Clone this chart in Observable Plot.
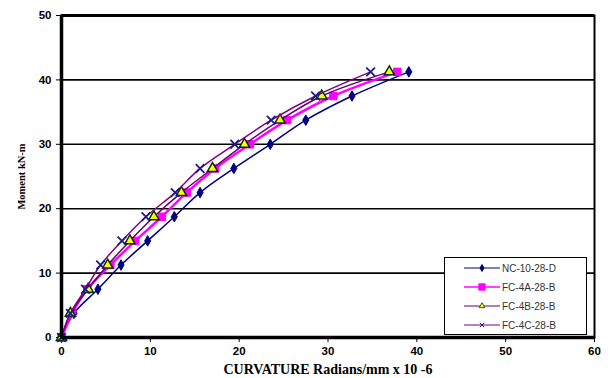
<!DOCTYPE html>
<html><head><meta charset="utf-8">
<script src="https://cdn.jsdelivr.net/npm/d3@7"></script>
<script src="https://cdn.jsdelivr.net/npm/@observablehq/plot@0.6"></script>
<style>
body{margin:0;background:#fff;}
#wrap{position:relative;width:608px;height:378px;}
#wrap svg{display:block;}
g[aria-label="x-axis label"] text, g[aria-label="y-axis label"] text{font-family:"Liberation Serif","DejaVu Serif",serif;font-weight:bold;}
g[aria-label="x-axis label"] text{font-size:14px;}
g[aria-label="y-axis label"] text{font-size:10.5px;}
#legend{position:absolute;left:444px;top:257px;width:143px;height:78px;box-sizing:border-box;border:1px solid #000;background:#fff;font-family:"Liberation Sans",Arial,sans-serif;font-size:10px;color:#333;}
#legend .row{position:absolute;left:18px;height:14px;display:flex;align-items:center;}
#legend svg{margin-right:1px;}
</style></head>
<body>
<div id="wrap"></div>
<script>
const moments = [0, 3.75, 7.5, 11.25, 15, 18.75, 22.5, 26.25, 30, 33.75, 37.5, 41.25];
const seriesNames = ["NC-10-28-D", "FC-4A-28-B", "FC-4B-28-B", "FC-4C-28-B"];
const curvNC = [0, 1.4, 4.1, 6.7, 9.7, 12.7, 15.6, 19.4, 23.5, 27.5, 32.7, 39.1];
const curv4A = [0, 1.2, 2.9, 5.5, 8.3, 11.3, 14.1, 17.3, 21.2, 25.4, 30.6, 37.8];
const curv4B = [0, 1.0, 3.0, 5.2, 7.7, 10.4, 13.5, 17.0, 20.6, 24.6, 29.3, 36.9];
const curv4C = [0, 1.0, 2.7, 4.4, 6.8, 9.5, 12.8, 15.6, 19.5, 23.6, 28.6, 34.8];
const xTicks = [0, 10, 20, 30, 40, 50, 60];
const yTicks = [0, 10, 20, 30, 40, 50];

const curves = [curvNC, curv4A, curv4B, curv4C];
const styles = [
  {line:"#000080", lw:1.5, symbol:"diamond", fill:"#000080", stroke:"#000080", r:3.2, sw:1},
  {line:"#FF00FF", lw:2.5, symbol:"square", fill:"#FF00FF", stroke:"#FF00FF", r:4.2, sw:1},
  {line:"#660066", lw:1.5, symbol:"triangle", fill:"#FFFF00", stroke:"#003300", r:3.8, sw:1.5},
  {line:"#800080", lw:1.5, symbol:"times", fill:"none", stroke:"#1a1a8c", r:4, sw:1.8}
];
const tables = curves.map((c, i) => c.map((x, j) => ({x, y: moments[j], s: seriesNames[i]})));

const marks = [
  Plot.gridY([10, 20, 30, 40], {y: d => d, stroke: "#000", strokeOpacity: 1, strokeWidth: 1.6}),
  Plot.axisX({ticks: xTicks, tickSize: 5, tickPadding: 4, label: "CURVATURE Radians/mm x 10 -6", labelAnchor: "center", labelArrow: "none", labelOffset: 36}),
  Plot.axisY({ticks: yTicks, tickSize: 5, tickPadding: 5, label: "Moment kN-m", labelAnchor: "center", labelArrow: "none", labelOffset: 44}),
];
tables.forEach((t, i) => {
  const s = styles[i];
  marks.push(Plot.line(t, {x: "x", y: "y", stroke: s.line, strokeWidth: s.lw, curve: "catmull-rom"}));
  marks.push(Plot.dot(t, {x: "x", y: "y", symbol: () => s.symbol, r: s.r, fill: s.fill, stroke: s.stroke, strokeWidth: s.sw}));
});
marks.push(Plot.frame({stroke: "#000", strokeWidth: 2}));
marks.push(Plot.ruleX([0], {stroke: "#000", strokeWidth: 3.5}));
marks.push(Plot.ruleY([0], {stroke: "#000", strokeWidth: 3.5}));
marks.push(Plot.ruleY([50], {stroke: "#000", strokeWidth: 3}));

const chart = Plot.plot({
  width: 608, height: 378,
  marginLeft: 61, marginRight: 14, marginTop: 15, marginBottom: 41,
  x: {domain: [0, 60]},
  y: {domain: [0, 50]},
  style: {fontFamily: "'Liberation Sans', Arial, sans-serif", fontSize: "11.5px", fontWeight: "bold", color: "#000", background: "#fff"},
  marks
});
const wrap = document.getElementById("wrap");
wrap.appendChild(chart);

// legend
const legend = document.createElement("div");
legend.id = "legend";
const rowTops = [3, 22, 41, 60];
seriesNames.forEach((name, i) => {
  const s = styles[i];
  const row = document.createElement("div");
  row.className = "row";
  row.style.top = rowTops[i] + "px";
  const svg = d3.create("svg").attr("width", 38).attr("height", 14);
  svg.append("line").attr("x1", 1).attr("x2", 37).attr("y1", 7).attr("y2", 7).attr("stroke", s.line).attr("stroke-width", i === 1 ? 1.5 : 1.2);
  const symMap = {diamond: d3.symbolDiamond, square: d3.symbolSquare, triangle: d3.symbolTriangle, times: d3.symbolTimes};
  const size = i === 1 ? 40 : 14;
  svg.append("path").attr("d", d3.symbol(symMap[s.symbol], size)()).attr("transform", "translate(19,7)")
    .attr("fill", s.fill).attr("stroke", s.stroke).attr("stroke-width", i === 2 ? 0.8 : 1);
  row.appendChild(svg.node());
  const t = document.createElement("span");
  t.textContent = name;
  row.appendChild(t);
  legend.appendChild(row);
});
wrap.appendChild(legend);
</script>
</body></html>
